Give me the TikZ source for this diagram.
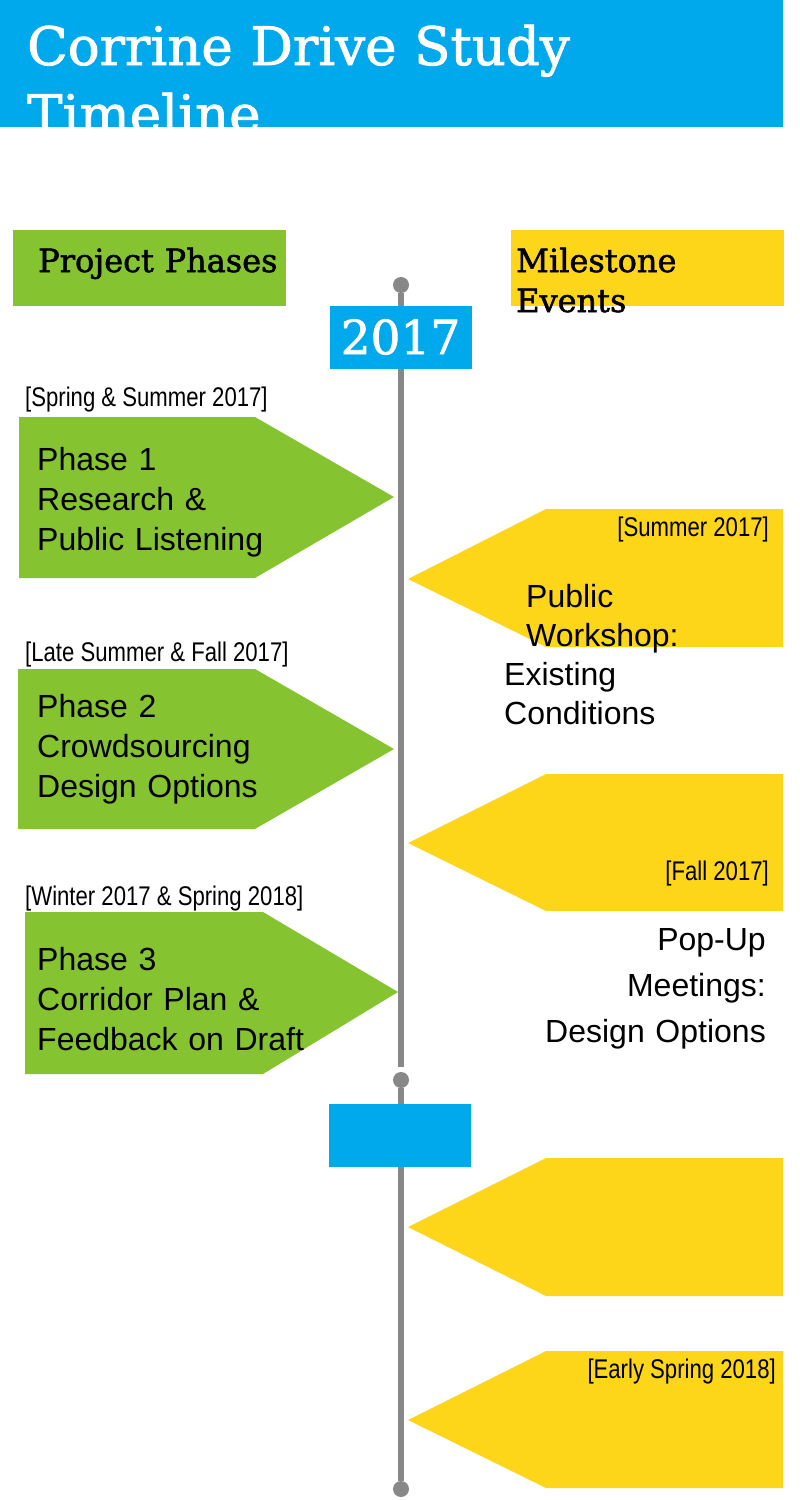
\documentclass[tikz,border=0pt]{standalone}
\usepackage{fontspec}
\setmainfont{Liberation Sans}
\newfontfamily\slabfont[FakeBold=1.6]{DejaVu Serif}
\newfontfamily\narrowfont[FakeStretch=0.82]{Liberation Sans}
\definecolor{titleblue}{RGB}{0,168,236}
\definecolor{phasegreen}{RGB}{134,195,49}
\definecolor{eventyellow}{RGB}{253,214,26}
\definecolor{linegray}{RGB}{136,136,136}

\begin{document}
\begin{tikzpicture}[x=1pt,y=-1pt,
    headbox/.style={anchor=north west,inner sep=0pt,minimum width=273pt,minimum height=76pt},
    headtext/.style={anchor=base west,inner sep=0pt,text width=260pt,align=left,font=\slabfont\fontsize{32}{40}\selectfont},
    yearbox/.style={fill=titleblue,inner sep=0pt,minimum width=142pt,minimum height=63pt,text=white,font=\slabfont\fontsize{47}{47}\selectfont},
    dot/.style={shape=circle,fill=linegray,inner sep=0pt,minimum size=16pt},
    timeline/.style={draw=linegray,line width=6pt},
    phasearrow/.style={fill=phasegreen},
    eventarrow/.style={fill=eventyellow},
    datelabel/.style={inner sep=0pt,font=\narrowfont\fontsize{27}{30}\selectfont},
    phasetext/.style={anchor=base west,inner sep=0pt,text width=340pt,align=left,font=\fontsize{32}{40}\selectfont},
    eventtext/.style={inner sep=0pt,text width=280pt,font=\fontsize{32}{39}\selectfont}]
    \useasboundingbox (0,0) rectangle (800,1500);

    % title bar
    \fill[titleblue] (0,0) rectangle (783,127);
    \node[anchor=base west,inner sep=0pt,text width=760pt,align=left,text=white,
          font=\slabfont\fontsize{53}{68}\selectfont] (title) at (27,65) {Corrine Drive Study\\Timeline};

    % column heads
    \node[headbox,fill=phasegreen] (phasehead) at (13,230) {};
    \node[headtext] (phasetitle) at (38,272) {Project Phases};
    \node[headbox,fill=eventyellow] (eventhead) at (511,230) {};
    \node[headtext] (eventtitle) at (516,272) {Milestone\\Events};

    % timeline
    \node[dot] (top) at (401,285) {};
    \node[dot] (mid) at (401,1080) {};
    \node[dot] (bot) at (401,1489) {};
    \coordinate (gap) at (401,1067);
    \draw[timeline] (top) -- (gap);
    \draw[timeline] (mid) -- (bot);
    \node[yearbox] (y2017) at (400.5,337) {2017};
    \node[yearbox] (y2018) at (400,1135) {};

    % phases
    \fill[phasearrow] (19,417) -- (255,417) -- (394,497) -- (255,578) -- (19,578) -- cycle;
    \fill[phasearrow] (18,669) -- (255,669) -- (394,749) -- (255,829) -- (18,829) -- cycle;
    \fill[phasearrow] (25,912) -- (263,912) -- (398,992) -- (263,1074) -- (25,1074) -- cycle;
    \node[datelabel,anchor=west] (d1) at (25,400) {[Spring \& Summer 2017]};
    \node[datelabel,anchor=west] (d2) at (25,655) {[Late Summer \& Fall 2017]};
    \node[datelabel,anchor=west] (d3) at (25,899) {[Winter 2017 \& Spring 2018]};
    \node[phasetext] (p1) at (37,470) {Phase 1\\Research \&\\Public Listening};
    \node[phasetext] (p2) at (37,717) {Phase 2\\Crowdsourcing\\Design Options};
    \node[phasetext] (p3) at (37,970) {Phase 3\\Corridor Plan \&\\Feedback on Draft};

    % milestones
    \fill[eventarrow] (783,509) -- (546,509) -- (408,579) -- (546,647) -- (783,647) -- cycle;
    \fill[eventarrow] (783,774) -- (546,774) -- (408,843) -- (546,911) -- (783,911) -- cycle;
    \fill[eventarrow] (783,1158) -- (546,1158) -- (408,1227) -- (546,1296) -- (783,1296) -- cycle;
    \fill[eventarrow] (783,1351) -- (546,1351) -- (408,1420) -- (546,1488) -- (783,1488) -- cycle;
    \node[datelabel,anchor=east] (e1) at (769,530) {[Summer 2017]};
    \node[datelabel,anchor=east] (e2) at (769,874) {[Fall 2017]};
    \node[datelabel,anchor=east] (e4) at (776,1372) {[Early Spring 2018]};
    \node[eventtext,anchor=base west,align=left] (m1) at (504,607)
        {\hspace*{22pt}Public\\\hspace*{22pt}Workshop:\\Existing\\Conditions};
    \node[eventtext,anchor=base east,align=right,font=\fontsize{32}{46}\selectfont] (m2) at (766,950)
        {Pop-Up\\Meetings:\\Design Options};
\end{tikzpicture}
\end{document}
